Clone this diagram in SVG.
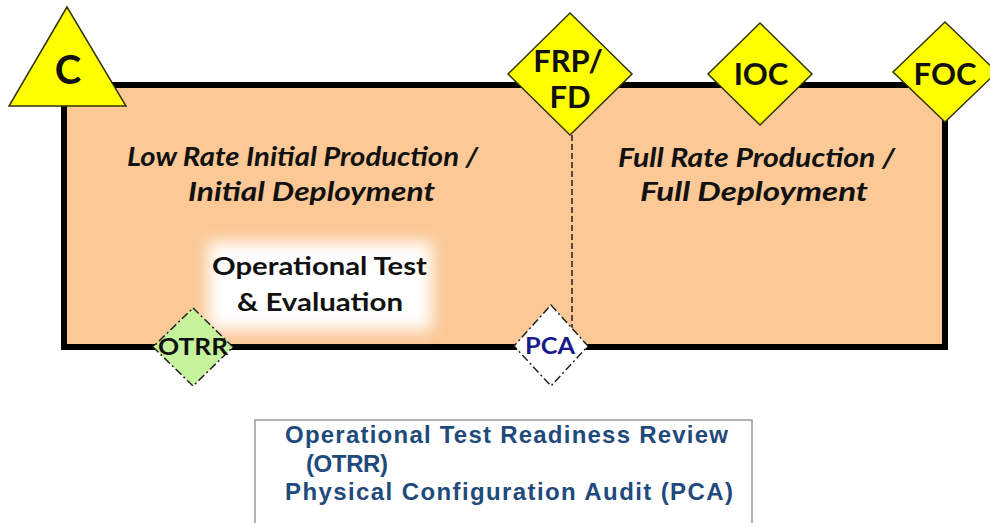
<svg xmlns="http://www.w3.org/2000/svg" width="990" height="523" viewBox="0 0 990 523">
<style>
.cal{font-family:Lato,"Open Sans","DejaVu Sans",sans-serif;font-weight:bold}
.it{font-style:italic;font-size:26px;fill:#111}
.ms{font-size:31px;fill:#111;text-anchor:middle}
.leg{font-family:"Liberation Sans",Arial,sans-serif;font-weight:bold;font-size:24px;fill:#1F4A7C}
.yel{fill:#FFFF00;stroke:#333300;stroke-width:1.5}
.dd{stroke:#222;stroke-width:1.5;stroke-dasharray:8 3 2 3}
</style>
<defs>
<filter id="glow" x="-30%" y="-30%" width="160%" height="160%"><feGaussianBlur stdDeviation="8"/></filter>
</defs>
<g id="phase">
<rect x="64" y="85" width="881" height="262" fill="#FBC896" stroke="#000" stroke-width="6"/>
<text class="cal it" x="127" y="166" textLength="351" lengthAdjust="spacingAndGlyphs">Low Rate Initial Production /</text>
<text class="cal it" x="188" y="201" textLength="247" lengthAdjust="spacingAndGlyphs">Initial Deployment</text>
<text class="cal it" x="618" y="167" textLength="277" lengthAdjust="spacingAndGlyphs">Full Rate Production /</text>
<text class="cal it" x="640" y="201" textLength="228" lengthAdjust="spacingAndGlyphs">Full Deployment</text>
</g>
<g id="connectors">
<line x1="572" y1="135" x2="572" y2="328" stroke="#222" stroke-width="1.5" stroke-dasharray="6 3"/>
</g>
<g id="ote">
<rect x="208" y="242" width="224" height="88" fill="#fff" filter="url(#glow)"/>
<text class="cal" x="212" y="275" font-size="24" fill="#111" textLength="215" lengthAdjust="spacingAndGlyphs">Operational Test</text>
<text class="cal" x="237" y="311" font-size="24" fill="#111" textLength="166" lengthAdjust="spacingAndGlyphs">&amp; Evaluation</text>
</g>
<g id="C">
<polygon class="yel" points="67,7 9,106 126,106"/>
<text class="cal" x="68" y="84" text-anchor="middle" font-size="40" fill="#111">C</text>
</g>
<g id="FRP">
<polygon class="yel" points="570,13 632,74 570,135 508,74"/>
<text class="cal ms" x="568" y="72">FRP/</text>
<text class="cal ms" x="570" y="108">FD</text>
</g>
<g id="IOC">
<polygon class="yel" points="760,23 812,74 760,125 708,74"/>
<text class="cal ms" x="761" y="85">IOC</text>
</g>
<g id="FOC">
<polygon class="yel" points="945,22 997,72 945,122 893,72"/>
<text class="cal ms" x="945" y="85">FOC</text>
</g>
<g id="OTRR">
<polygon class="dd" fill="#C6F29C" points="193,308 233,347 193,386 153,347"/>
<text class="cal" x="158" y="355" font-size="22" fill="#111" font-weight="normal" textLength="70" lengthAdjust="spacingAndGlyphs">OTRR</text>
</g>
<g id="PCA">
<polygon class="dd" fill="#fff" points="551,305 588,346 551,386 514,346"/>
<text class="cal" x="525" y="354" font-size="23" fill="#1A1A8C" textLength="50" lengthAdjust="spacingAndGlyphs">PCA</text>
</g>
<g id="legend">
<rect x="255" y="420" width="497" height="120" fill="#fff" stroke="#999" stroke-width="1.5"/>
<text class="leg" x="285" y="443" textLength="443" lengthAdjust="spacing">Operational Test Readiness Review</text>
<text class="leg" x="306" y="472" textLength="82" lengthAdjust="spacing">(OTRR)</text>
<text class="leg" x="285" y="500" textLength="448" lengthAdjust="spacing">Physical Configuration Audit (PCA)</text>
</g>
</svg>
